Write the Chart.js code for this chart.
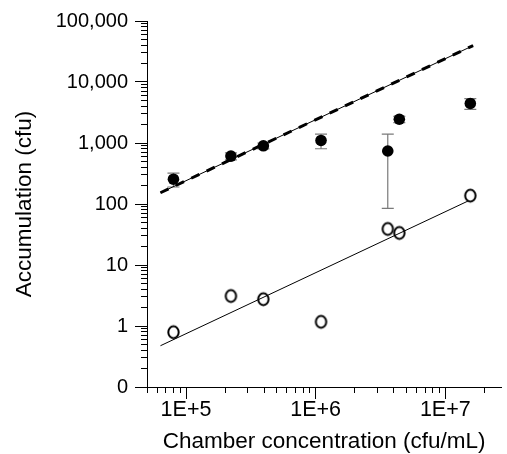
<!DOCTYPE html>
<html>
<head>
<meta charset="utf-8">
<script src="https://cdn.jsdelivr.net/npm/chart.js@4.4.1/dist/chart.umd.min.js"></script>
<style>
  body { margin: 0; background: #fff; }
  canvas { display: block; }
</style>
</head>
<body>
<canvas id="chart" width="507" height="454"></canvas>
<script>
// Chamber concentrations (cfu/mL), shared by both series
const conc = [8.0e4, 2.22e5, 3.95e5, 1.1e6, 3.6e6, 4.42e6, 1.56e7];
// Filled circles: mean and SD (cfu)
const filledMean = [255, 610, 900, 1100, 740, 2450, 4450];
const filledSD = [65, 80, 100, 295, 655, 285, 900];
// Open circles (cfu)
const openMean = [0.79, 3.1, 2.75, 1.17, 39, 33.5, 137];
// Fitted lines (end points)
const upperFitX = [6.35e4, 1.64e7];
const upperFitY = [153, 39500];
const lowerFitX = [6.35e4, 1.5e7];
const lowerFitY = [0.475, 112];
// Axis ticks
const yMajorTicks = [0.1, 1, 10, 100, 1000, 10000, 100000];
const xMajorTicks = [1e5, 1e6, 1e7];
const xMin = 5e4, xMax = 2.7e7;
const yMin = 0.1, yMax = 100000;

const FONT = "'Liberation Sans', Arial, Helvetica, sans-serif";

function minorTicks(min, max) {
    const out = [];
    for (let d = Math.pow(10, Math.floor(Math.log10(min))); d < max; d *= 10) {
        for (let m = 2; m <= 9; m++) {
            const v = m * d;
            if (v >= min * 0.999 && v <= max) out.push({ value: v });
        }
    }
    return out;
}

// open marker: slightly tall "O"
const openMarker = document.createElement('canvas');
openMarker.width = 15;
openMarker.height = 17;
(function () {
    const c = openMarker.getContext('2d');
    c.strokeStyle = '#000';
    c.lineWidth = 2;
    c.beginPath();
    c.ellipse(7.5, 8.5, 5.2, 5.9, 0, 0, Math.PI * 2);
    c.stroke();
})();

const toXY = (xs, ys) => xs.map((x, i) => ({ x: x, y: ys[i] }));

const errorBars = {
    id: 'errorBars',
    beforeDatasetsDraw(chart) {
        const { ctx } = chart;
        const x = chart.scales.x, y = chart.scales.y;
        ctx.save();
        ctx.strokeStyle = '#7a7a7a';
        ctx.lineWidth = 1.2;
        conc.forEach((c, i) => {
            const px = x.getPixelForValue(c);
            const top = y.getPixelForValue(filledMean[i] + filledSD[i]);
            const bot = y.getPixelForValue(Math.max(filledMean[i] - filledSD[i], yMin));
            ctx.beginPath();
            ctx.moveTo(px, top); ctx.lineTo(px, bot);
            ctx.moveTo(px - 6, top); ctx.lineTo(px + 6, top);
            ctx.moveTo(px - 6, bot); ctx.lineTo(px + 6, bot);
            ctx.stroke();
        });
        ctx.restore();
    }
};

const minorAxis = (min, max, pos) => ({
    type: 'logarithmic',
    position: pos,
    min: min,
    max: max,
    weight: 0,
    afterBuildTicks: s => { s.ticks = minorTicks(min, max); },
    afterFit: s => { if (pos === 'left') s.width = 0; else s.height = 0; },
    grid: { drawOnChartArea: false, drawTicks: true, tickLength: 6, tickColor: '#000', tickWidth: 1 },
    border: { display: false },
    ticks: { autoSkip: false, maxRotation: 0, callback: () => '' }
});

new Chart(document.getElementById('chart'), {
    type: 'scatter',
    data: {
        datasets: [
            {
                data: toXY(conc, filledMean),
                xAxisID: 'x', yAxisID: 'y',
                pointStyle: 'circle',
                pointRadius: 5.8,
                pointBackgroundColor: '#000',
                pointBorderWidth: 0
            },
            {
                data: toXY(conc, openMean),
                xAxisID: 'x', yAxisID: 'y',
                pointStyle: openMarker
            },
            {
                data: toXY(upperFitX, upperFitY),
                xAxisID: 'x', yAxisID: 'y',
                showLine: true,
                pointRadius: 0,
                borderColor: '#000',
                borderWidth: 3,
                borderDash: [9, 8]
            },
            {
                data: toXY(upperFitX, upperFitY),
                xAxisID: 'x', yAxisID: 'y',
                showLine: true,
                pointRadius: 0,
                borderColor: '#000',
                borderWidth: 1
            },
            {
                data: toXY(lowerFitX, lowerFitY),
                xAxisID: 'x', yAxisID: 'y',
                showLine: true,
                pointRadius: 0,
                borderColor: '#000',
                borderWidth: 1
            }
        ]
    },
    options: {
        responsive: false,
        animation: false,
        layout: { padding: { top: 21, right: 0, left: 0, bottom: 0 } },
        plugins: { legend: { display: false }, tooltip: { enabled: false } },
        scales: {
            x: {
                type: 'logarithmic',
                position: 'bottom',
                min: xMin,
                max: xMax,
                weight: 1,
                afterBuildTicks: s => { s.ticks = xMajorTicks.map(v => ({ value: v })); },
                afterFit: s => { s.height = 67; },
                grid: { drawOnChartArea: false, drawTicks: true, tickLength: 12, tickColor: '#000', tickWidth: 1 },
                border: { display: true, color: '#000', width: 1 },
                ticks: {
                    autoSkip: false, maxRotation: 0, padding: 0, color: '#000',
                    font: { family: FONT, size: 21.5, lineHeight: 1 },
                    callback: v => '1E+' + Math.round(Math.log10(v))
                },
                title: {
                    display: true, text: 'Chamber concentration (cfu/mL)', color: '#000',
                    font: { family: FONT, size: 22.5, lineHeight: 1 },
                    padding: { top: 0, bottom: 0.5 }
                }
            },
            xMinor: minorAxis(xMin, xMax, 'bottom'),
            y: {
                type: 'logarithmic',
                position: 'left',
                min: yMin,
                max: yMax,
                weight: 1,
                afterBuildTicks: s => { s.ticks = yMajorTicks.map(v => ({ value: v })); },
                afterFit: s => { s.width = 147; },
                grid: { drawOnChartArea: false, drawTicks: true, tickLength: 12, tickColor: '#000', tickWidth: 1 },
                border: { display: true, color: '#000', width: 1 },
                ticks: {
                    autoSkip: false, padding: 7, color: '#000',
                    font: { family: FONT, size: 20, lineHeight: 1 },
                    callback: v => v === yMin ? '0' : v.toLocaleString('en-US')
                },
                title: {
                    display: true, text: 'Accumulation (cfu)', color: '#000',
                    font: { family: FONT, size: 22.5, lineHeight: 1 },
                    padding: { top: 13.7, bottom: 0 }
                }
            },
            yMinor: minorAxis(yMin, yMax, 'left')
        }
    },
    plugins: [errorBars]
});
</script>
</body>
</html>
